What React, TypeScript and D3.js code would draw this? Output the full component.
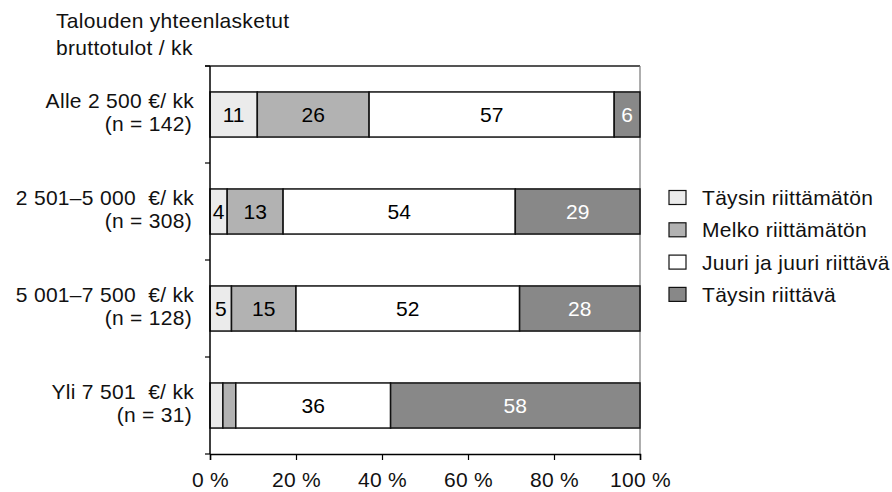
import * as React from "react";
import * as d3 from "d3";
import { useEffect, useRef } from "react";

const categories = [
  ["Alle 2 500 €/ kk", "(n = 142)"],
  ["2 501–5 000  €/ kk", "(n = 308)"],
  ["5 001–7 500  €/ kk", "(n = 128)"],
  ["Yli 7 501  €/ kk", "(n = 31)"],
];
const seriesNames = ["Täysin riittämätön", "Melko riittämätön", "Juuri ja juuri riittävä", "Täysin riittävä"];
const taysinRiittamaton = [11, 4, 5, 3];
const melkoRiittamaton = [26, 13, 15, 3];
const juuriRiittava = [57, 54, 52, 36];
const taysinRiittava = [6, 29, 28, 58];
const xTicks = [0, 20, 40, 60, 80, 100];

const colors = ["#ebebeb", "#b2b2b2", "#ffffff", "#888888"];
const textColors = ["#000", "#000", "#000", "#fff"];

const App = () => {
  const svgRef = useRef<SVGSVGElement>(null);

  useEffect(() => {
    const w = 892;
    const h = 492;
    const m = { left: 210, right: 640, top: 66, bottom: 454 };
    const font = "'Liberation Sans', Arial, sans-serif";
    const fs = 21;
    const ls = "0.3px";

    const svg = d3.select(svgRef.current).attr("width", w).attr("height", h);
    svg.selectAll("*").remove();

    const series = [taysinRiittamaton, melkoRiittamaton, juuriRiittava, taysinRiittava];
    const rows = categories.map((c, i) => {
      let acc = 0;
      return series.map((s, k) => {
        const seg = { k, x0: acc, x1: acc + s[i], v: s[i] };
        acc += s[i];
        return seg;
      });
    });

    const x = d3.scaleLinear().domain([0, 100]).range([m.left, m.right]);
    const y = d3
      .scaleBand()
      .domain(categories.map((_, i) => String(i)))
      .range([m.top, m.bottom])
      .paddingInner(0.535)
      .paddingOuter(0.2675);

    // frame
    svg.append("line").attr("x1", 205).attr("x2", m.right).attr("y1", m.top).attr("y2", m.top)
      .attr("stroke", "#555").attr("stroke-width", 2);
    svg.append("line").attr("x1", m.right).attr("x2", m.right).attr("y1", m.top).attr("y2", m.bottom)
      .attr("stroke", "#777").attr("stroke-width", 1.2);

    const g = svg.append("g");
    rows.forEach((row, i) => {
      const yy = y(String(i))!;
      row.forEach((seg) => {
        g.append("rect")
          .attr("x", x(seg.x0))
          .attr("y", yy)
          .attr("width", x(seg.x1) - x(seg.x0))
          .attr("height", y.bandwidth())
          .attr("fill", colors[seg.k])
          .attr("stroke", "#111")
          .attr("stroke-width", 1.5);
        if (seg.v >= 4) {
          g.append("text")
            .attr("x", (x(seg.x0) + x(seg.x1)) / 2)
            .attr("y", yy + y.bandwidth() / 2)
            .attr("dy", "0.36em")
            .attr("text-anchor", "middle")
            .attr("font-family", font)
            .attr("font-size", fs)
            .attr("fill", textColors[seg.k])
            .text(seg.v);
        }
      });
    });

    // left axis
    const band = (m.bottom - m.top) / categories.length;
    svg.append("line").attr("x1", m.left).attr("x2", m.left).attr("y1", m.top).attr("y2", m.bottom)
      .attr("stroke", "#000").attr("stroke-width", 1.5);
    d3.range(categories.length + 1).forEach((i) => {
      svg.append("line").attr("x1", 205).attr("x2", m.left)
        .attr("y1", m.top + i * band).attr("y2", m.top + i * band)
        .attr("stroke", "#000").attr("stroke-width", 1.2);
    });

    categories.forEach((c, i) => {
      const cy = y(String(i))! + y.bandwidth() / 2;
      const t = svg.append("text")
        .attr("text-anchor", "end")
        .attr("font-family", font)
        .attr("font-size", fs)
        .attr("letter-spacing", ls)
        .style("white-space", "pre")
        .attr("fill", "#111");
      t.append("tspan").attr("x", 194).attr("y", cy - 6.5).text(c[0]);
      t.append("tspan").attr("x", 192).attr("y", cy + 16).text(c[1]);
    });

    // bottom axis
    const xAxis = d3.axisBottom(x).tickValues(xTicks).tickSize(6).tickFormat((d) => `${d} %`);
    const ax = svg.append("g").attr("transform", `translate(0, ${m.bottom})`).call(xAxis);
    ax.select(".domain").attr("stroke", "#000").attr("stroke-width", 1.5);
    ax.selectAll(".tick line").attr("stroke", "#000").attr("stroke-width", 1.2);
    ax.selectAll(".tick text")
      .attr("font-family", font)
      .attr("font-size", fs)
      .attr("letter-spacing", ls)
      .attr("fill", "#111")
      .attr("dy", 0)
      .attr("y", 33);

    // title
    const title = svg.append("text").attr("font-family", font).attr("font-size", fs)
      .attr("letter-spacing", ls).attr("fill", "#111");
    title.append("tspan").attr("x", 56).attr("y", 28).text("Talouden yhteenlasketut");
    title.append("tspan").attr("x", 56).attr("y", 55).text("bruttotulot / kk");

    // legend
    seriesNames.forEach((name, k) => {
      const ly = 197.5 + k * 32.3;
      svg.append("rect").attr("x", 669).attr("y", ly - 7).attr("width", 17).attr("height", 14)
        .attr("fill", colors[k]).attr("stroke", "#111").attr("stroke-width", 1.2);
      svg.append("text").attr("x", 702).attr("y", ly).attr("dy", "0.36em")
        .attr("font-family", font).attr("font-size", fs).attr("letter-spacing", ls)
        .attr("fill", "#111").text(name);
    });
  }, []);

  return <svg ref={svgRef} style={{ position: "absolute", left: 0, top: 0 }}></svg>;
};

export default App;
